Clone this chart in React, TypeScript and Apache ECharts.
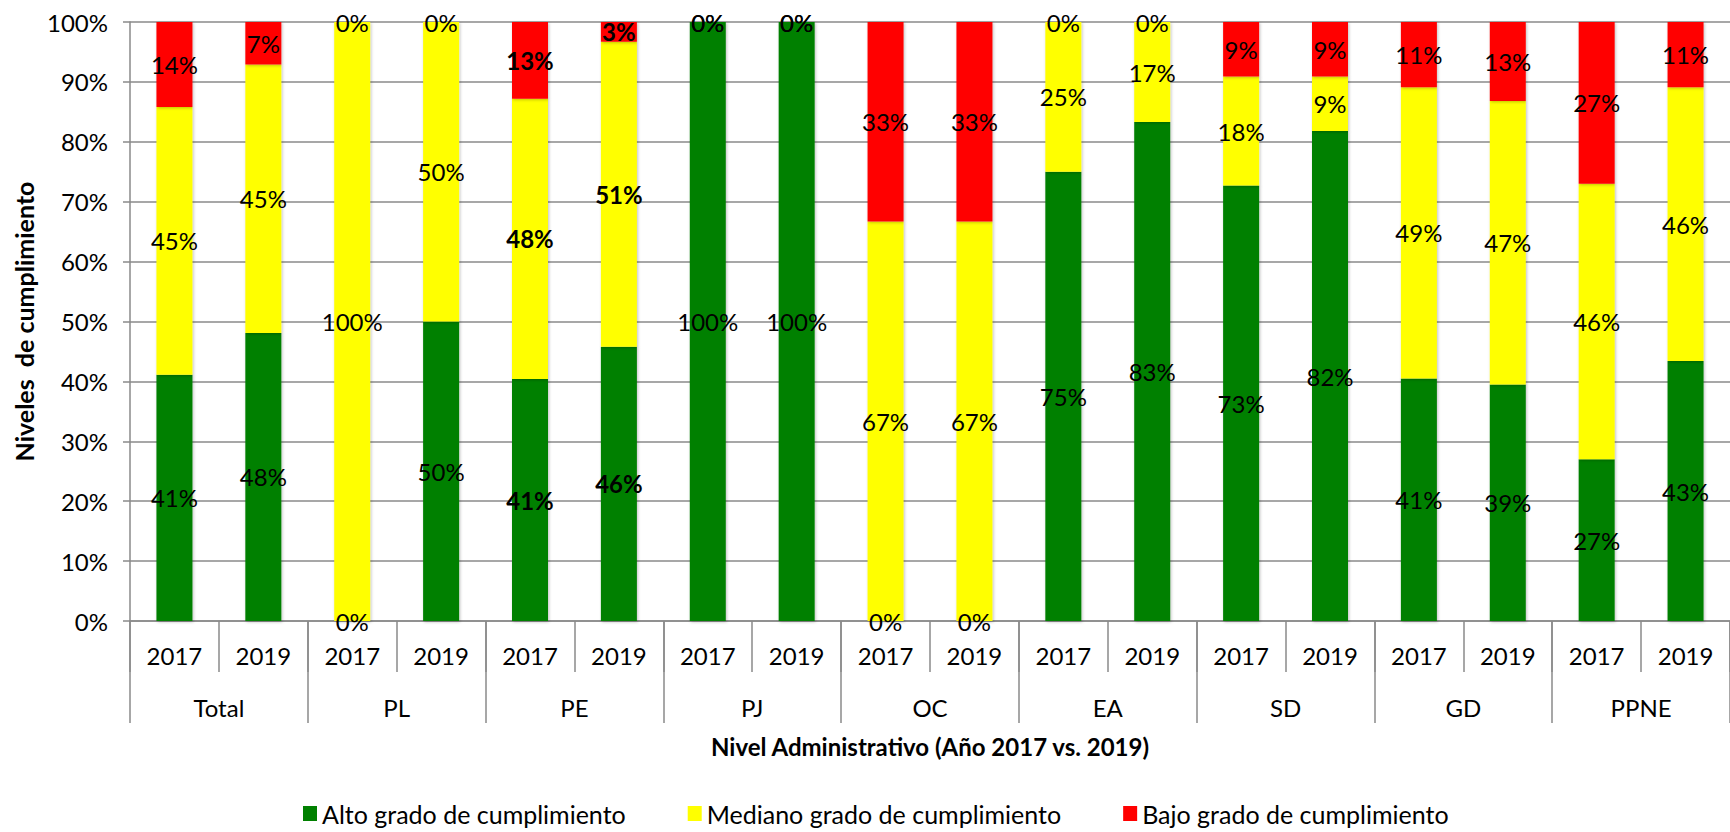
import React, { useEffect, useRef } from "react";
import * as echarts from "echarts";

const groups = ["Total", "PL", "PE", "PJ", "OC", "EA", "SD", "GD", "PPNE"];
const years = ["2017", "2019"];
const yearLabels = groups.flatMap(() => years);

const seriesNames = [
  "Alto grado de cumplimiento",
  "Mediano grado de cumplimiento",
  "Bajo grado de cumplimiento",
];

// bar heights (%)
const alto = [41.1, 48.1, 0, 50, 40.4, 45.8, 100, 100, 0, 0, 75, 83.3, 72.7, 81.8, 40.5, 39.5, 27.0, 43.4];
const mediano = [44.7, 44.8, 100, 50, 46.8, 50.9, 0, 0, 66.7, 66.7, 25, 16.7, 18.2, 9.1, 48.6, 47.3, 46.0, 45.7];
const bajo = [14.2, 7.1, 0, 0, 12.8, 3.3, 0, 0, 33.3, 33.3, 0, 0, 9.1, 9.1, 10.9, 13.2, 27.0, 10.9];

// printed data labels (%)
const altoLabels = [41, 48, 0, 50, 41, 46, 100, 100, 0, 0, 75, 83, 73, 82, 41, 39, 27, 43];
const medianoLabels = [45, 45, 100, 50, 48, 51, 0, 0, 67, 67, 25, 17, 18, 9, 49, 47, 46, 46];
const bajoLabels = [14, 7, 0, 0, 13, 3, 0, 0, 33, 33, 0, 0, 9, 9, 11, 13, 27, 11];

const boldGroup = "PE";
const colors = ["#008000", "#FFFF00", "#FF0000"];
const yTicks = [0, 10, 20, 30, 40, 50, 60, 70, 80, 90, 100];

const FONT = "Lato";
const GRAY = "#8a8a8a";

export default function App() {
  const ref = useRef<HTMLDivElement>(null);
  useEffect(() => {
    if (!ref.current) return;
    const chart = echarts.init(ref.current, undefined, { renderer: "svg" });
    const values = [alto, mediano, bajo];
    const labels = [altoLabels, medianoLabels, bajoLabels];
    const series = values.map((vals, si) => ({
      name: seriesNames[si],
      type: "bar",
      stack: "total",
      xAxisIndex: 0,
      barWidth: 36,
      itemStyle: {
        color: colors[si],
        shadowColor: "rgba(0,0,0,0.25)",
        shadowBlur: 3,
        shadowOffsetX: 1,
        shadowOffsetY: 1,
      },
      label: {
        show: true,
        position: "inside",
        color: "#000",
        fontFamily: FONT,
        fontSize: 24,
      },
      data: vals.map((v, i) => ({
        value: v,
        label: {
          formatter: labels[si][i] + "%",
          fontWeight: groups[Math.floor(i / 2)] === boldGroup ? "bold" : "normal",
        },
      })),
    }));
    chart.setOption({
      animation: false,
      textStyle: { fontFamily: FONT },
      grid: { left: 130, right: 0, top: 22, bottom: 211, containLabel: false },
      legend: {
        data: seriesNames,
        left: 298,
        top: 796,
        icon: "rect",
        itemWidth: 14,
        itemHeight: 15,
        itemGap: 62,
        textStyle: { fontFamily: FONT, fontSize: 25, color: "#000" },
      },
      xAxis: [
        {
          type: "category",
          data: yearLabels,
          position: "bottom",
          axisLine: { show: true, lineStyle: { color: GRAY, width: 1.5 } },
          axisTick: { show: true, interval: 0, length: 51, lineStyle: { color: GRAY, width: 1.5 } },
          axisLabel: { interval: 0, margin: 22, color: "#000", fontFamily: FONT, fontSize: 24 },
        },
        {
          type: "category",
          data: groups,
          position: "bottom",
          axisLine: { show: false },
          axisTick: { show: true, interval: 0, length: 102, lineStyle: { color: GRAY, width: 1.5 } },
          axisLabel: { interval: 0, margin: 74, color: "#000", fontFamily: FONT, fontSize: 24 },
          name: "Nivel Administrativo (Año 2017 vs. 2019)",
          nameLocation: "middle",
          nameGap: 113,
          nameTextStyle: { fontFamily: FONT, fontSize: 24, fontWeight: "bold", color: "#000" },
        },
      ],
      yAxis: {
        type: "value",
        min: yTicks[0],
        max: yTicks[yTicks.length - 1],
        interval: 10,
        axisLine: { show: true, lineStyle: { color: GRAY, width: 1.5 } },
        axisTick: { show: true, length: 7, lineStyle: { color: GRAY, width: 1.5 } },
        axisLabel: { formatter: "{value}%", margin: 22, color: "#000", fontFamily: FONT, fontSize: 24 },
        splitLine: { show: true, lineStyle: { color: GRAY, width: 1.5 } },
        name: "Niveles  de cumplimiento",
        nameLocation: "middle",
        nameRotate: 90,
        nameGap: 94,
        nameTextStyle: { fontFamily: FONT, fontSize: 25, fontWeight: "bold", color: "#000" },
      },
      series,
    });
    return () => chart.dispose();
  }, []);
  return (
    <div
      ref={ref}
      style={{ position: "fixed", left: 0, top: 0, width: 1730, height: 832, background: "#fff" }}
    />
  );
}
